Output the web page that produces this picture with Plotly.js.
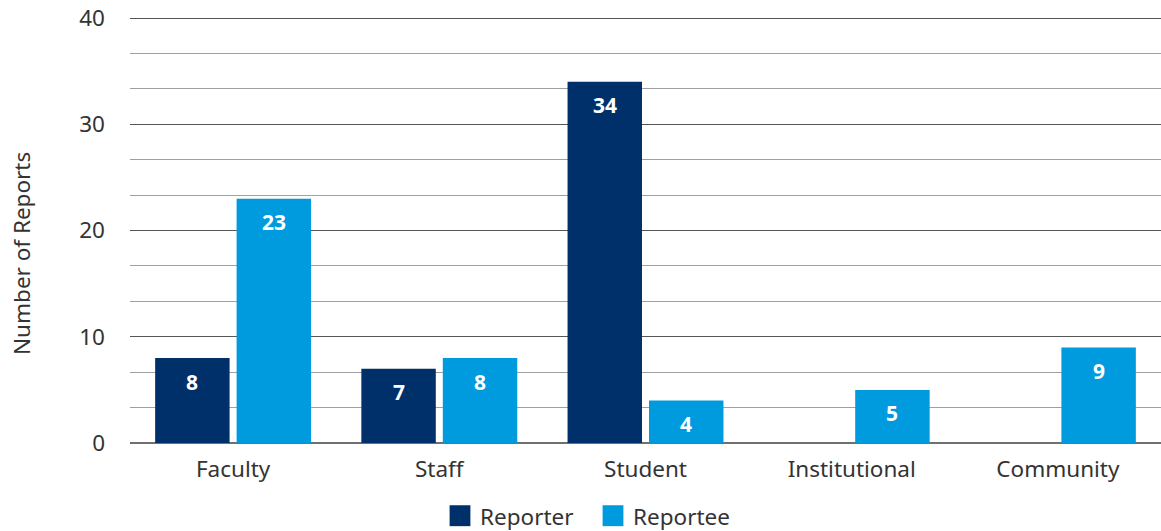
<!DOCTYPE html>
<html>
<head>
<meta charset="utf-8">
<script src="https://cdn.plot.ly/plotly-3.0.1.min.js"></script>
<style>html,body{margin:0;padding:0;background:#fff;}#chart{width:1161px;height:531px;}</style>
</head>
<body>
<div id="chart"></div>
<script>
const categories = ["Faculty", "Staff", "Student", "Institutional", "Community"];
const reporterValues = [8, 7, 34, null, null];
const reporteeValues = [23, 8, 4, 5, 9];
const seriesNames = ["Reporter", "Reportee"];
const seriesColors = ["#003069", "#009ade"];
const yTickValues = [0, 10, 20, 30, 40];

const FONT = "Noto Sans, Open Sans, sans-serif";
const TEXT_COLOR = "#333333";
const MARGIN = {l: 130, r: 0, t: 17, b: 88};
const W = 1161, H = 531;
const BARGAP = 0.21, GROUPGAP = 0.086;

const plotW = W - MARGIN.l - MARGIN.r;
const catW = plotW / categories.length;
const slotHalf = catW * (1 - BARGAP) / 4;

const seriesValues = [reporterValues, reporteeValues];

const traces = [];
seriesValues.forEach((vals, i) => {
  traces.push({type: "bar", name: seriesNames[i], x: categories, y: vals,
    marker: {color: seriesColors[i]}, showlegend: false, hoverinfo: "x+y"});
});
// legend-only entries with larger square swatches
seriesValues.forEach((vals, i) => {
  traces.push({type: "scatter", mode: "markers", name: seriesNames[i], x: [null], y: [null],
    marker: {symbol: "square", size: 20, color: seriesColors[i]}, showlegend: true, hoverinfo: "skip"});
});

const annotations = [];
seriesValues.forEach((vals, i) => {
  vals.forEach((v, j) => {
    if (v == null) return;
    annotations.push({x: categories[j], y: v, xref: "x", yref: "y",
      text: "<b>" + v + "</b>", showarrow: false,
      xshift: (i === 0 ? -1 : 1) * slotHalf, yshift: -23.5, yanchor: "middle", xanchor: "center",
      font: {family: FONT, size: 21, color: "#ffffff"}});
  });
});
annotations.push({text: "Number of Reports", xref: "paper", yref: "paper",
  x: -0.0, xshift: -108, y: (H - MARGIN.b - 254) / (H - MARGIN.t - MARGIN.b),
  xanchor: "center", yanchor: "middle", textangle: -90, showarrow: false,
  font: {family: FONT, size: 22.5, color: TEXT_COLOR}});

const layout = {
  width: W, height: H,
  margin: MARGIN,
  paper_bgcolor: "#ffffff", plot_bgcolor: "#ffffff",
  font: {family: FONT, size: 22.5, color: TEXT_COLOR},
  barmode: "group", bargap: BARGAP, bargroupgap: GROUPGAP,
  showlegend: true,
  legend: {orientation: "h", x: (440 - MARGIN.l) / plotW, xanchor: "left", yref: "container", y: 0.028, yanchor: "middle",
           font: {family: FONT, size: 22.5, color: TEXT_COLOR}, itemwidth: 30, traceorder: "normal",
           itemsizing: "trace", entrywidth: 108, entrywidthmode: "pixels"},
  xaxis: {type: "category", showgrid: false, zeroline: false, showline: false,
          ticks: "", ticklabelstandoff: 10, tickfont: {family: FONT, size: 22.5, color: TEXT_COLOR}, automargin: false},
  yaxis: {range: [0, 40.1], tickvals: yTickValues, ticktext: yTickValues.map(String),
          showgrid: true, gridcolor: "#555555", gridwidth: 1,
          minor: {dtick: 10/3, tick0: 0, showgrid: true, gridcolor: "#a0a0a0", gridwidth: 1, ticks: ""},
          zeroline: true, zerolinecolor: "#707070", zerolinewidth: 2,
          showline: false, ticks: "", ticklabelstandoff: 24,
          tickfont: {family: FONT, size: 22.5, color: TEXT_COLOR},
          automargin: false},
  annotations: annotations
};

Plotly.newPlot("chart", traces, layout, {displayModeBar: false, staticPlot: true}).then(gd => {
  // enlarge legend swatches to match the reference's ~20px squares
  gd.querySelectorAll(".legend .legendpoints path.scatterpts").forEach(p => {
    const t = p.getAttribute("transform") || "";
    p.setAttribute("transform", t + " scale(1.3)");
  });
});
</script>
</body>
</html>
